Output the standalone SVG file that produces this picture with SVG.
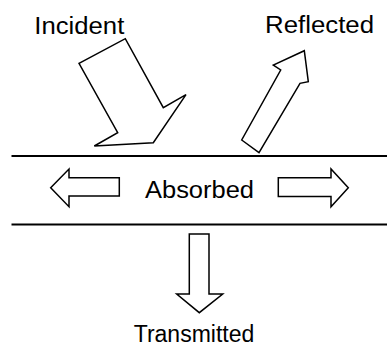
<svg xmlns="http://www.w3.org/2000/svg" width="387" height="347" viewBox="0 0 387 347">
<style>
.t{font-family:"Liberation Sans",Arial,sans-serif;font-size:23px;fill:#000;text-anchor:middle}
.a{fill:#fff;stroke:#000;stroke-width:1.5;stroke-linejoin:miter}
.l{stroke:#000;stroke-width:2}
</style>
<rect width="387" height="347" fill="#fff"/>
<g id="connectors">
<line class="l" x1="11.5" y1="156" x2="387" y2="156"/>
<line class="l" x1="11.5" y1="224.5" x2="387" y2="224.5"/>
</g>
<g id="incident">
<polygon class="a" points="79,63.3 125.3,38.7 163.3,107.7 186,94.7 153.3,142.7 94.3,146 117.7,132.7"/>
<text class="t" x="79.3" y="34.3" textLength="90" lengthAdjust="spacingAndGlyphs">Incident</text>
</g>
<g id="reflected">
<polygon class="a" points="241.7,140 259,152.7 300,83.3 308.3,81.7 304.3,50.7 273.3,65 280.7,70"/>
<text class="t" x="319.5" y="33.3" textLength="109" lengthAdjust="spacingAndGlyphs">Reflected</text>
</g>
<g id="absorbed">
<polygon class="a" points="119.3,177.7 69,177.7 69,169 50.7,187.7 69,206.7 69,196 119.3,196"/>
<polygon class="a" points="278.3,177.7 331,177.7 331,169 348.3,187.7 331,206.7 331,196.5 278.3,196.5"/>
<text class="t" x="199.5" y="198.3" textLength="109" lengthAdjust="spacingAndGlyphs">Absorbed</text>
</g>
<g id="transmitted">
<polygon class="a" points="189.3,234 209,234 209,294 222.7,294 199.3,312.7 176.7,294 189.3,294"/>
<text class="t" x="194" y="342">Transmitted</text>
</g>
</svg>
